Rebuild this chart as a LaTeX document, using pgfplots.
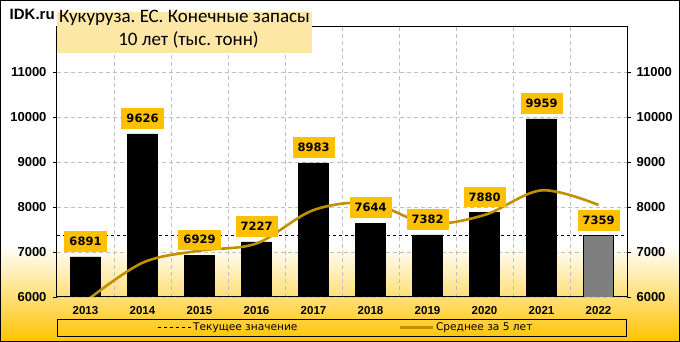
\documentclass[border=0pt]{standalone}
\usepackage{fontspec}
\setmainfont{Carlito}
\newfontfamily\dv{DejaVu Sans}
\newfontfamily\lib{Liberation Sans}
\usepackage{pgfplots}
\pgfplotsset{compat=1.18}
\definecolor{gold}{RGB}{191,144,0}
\definecolor{lab}{RGB}{255,192,0}
\definecolor{tbg}{RGB}{253,231,166}
\definecolor{grd}{RGB}{192,192,192}
\definecolor{bot}{RGB}{255,195,0}
\definecolor{barg}{RGB}{127,127,127}
\pgfplotsset{
  common/.style={
    at={(57pt,45pt)}, anchor=south west, scale only axis,
    width=570pt, height=270pt,
    xmin=-0.5, xmax=9.5, ymin=6000, ymax=12000,
    ytick={6000,7000,8000,9000,10000,11000},
    scaled y ticks=false,
    /pgf/number format/1000 sep={},
    /pgf/number format/assume math mode=true,
    yticklabel style={font=\lib\bfseries\fontsize{13}{15}\selectfont},
    tick align=outside, major tick length=4pt,
    axis line style={black, line width=1pt},
  }
}
\frenchspacing
\begin{document}
\begin{tikzpicture}[x=1pt,y=1pt]
\useasboundingbox (0,0) rectangle (680,342);
\fill[white] (0,0) rectangle (680,342);
\shade[top color=white, bottom color=bot] (0,0) rectangle (680,97);
\begin{axis}[common,
  xtick={0,...,9},
  xticklabels={2013,2014,2015,2016,2017,2018,2019,2020,2021,2022},
  xticklabel style={font=\lib\bfseries\fontsize{11.5}{13}\selectfont, yshift=-2pt},
  x tick style={draw=none},
  minor xtick={0.5,1.5,...,8.5},
  xminorgrids=true, ymajorgrids=true,
  minor x tick style={draw=none},
  grid style={grd, dash pattern=on 4pt off 3pt, line width=0.8pt},
  minor grid style={grd, dash pattern=on 4pt off 3pt, line width=0.8pt},
  y tick style={black, line width=0.8pt},
  yticklabel style={xshift=-3pt},
  legend columns=2,
  legend style={at={(0.1754,-0.1125)}, anchor=west, draw=none, fill=none,
    font=\dv\fontsize{10.6}{12}\selectfont, inner sep=0pt,
    /tikz/every even column/.append style={column sep=99pt}},
  legend image code/.code={\draw[#1] (0pt,0pt) -- (33pt,0pt);},
]
\addplot[ybar, bar width=30pt, bar shift=0pt, fill=black, draw=black, forget plot]
  coordinates {(0,6891) (1,9626) (2,6929) (3,7227) (4,8983) (5,7644) (6,7382) (7,7880) (8,9959)};
\addplot[ybar, bar width=30pt, bar shift=0pt, fill=barg, draw=black, line width=0.8pt, forget plot]
  coordinates {(9,7359)};
\addplot[black, line width=1pt, dash pattern=on 3pt off 3pt] coordinates {(-0.5,7359) (9.5,7359)};
\addlegendentry{Текущее значение}
\addplot[gold, line width=2.6pt, smooth, tension=0.55, mark=none]
  coordinates {(0,5900) (1,6760) (2,7030) (3,7190) (4,7931) (5,8082) (6,7633) (7,7823) (8,8370) (9,8045)};
\addlegendentry{Среднее за 5 лет}
\addplot[draw=none, mark=none, forget plot, nodes near coords, point meta=explicit symbolic,
  every node near coord/.style={anchor=south, yshift=5pt, fill=lab, text=black,
    font=\dv\bfseries\fontsize{11.5}{13}\selectfont, inner xsep=5pt, inner ysep=6pt,
    text height=8.4pt, text depth=0pt}]
  coordinates {(0,6891)[6891] (1,9626)[9626] (2,6929)[6929] (3,7227)[7227] (4,8983)[8983]
    (5,7644)[7644] (6,7382)[7382] (7,7880)[7880] (8,9959)[9959] (9,7359)[7359]};
\end{axis}
\begin{axis}[common, axis x line=none, axis y line*=right, yticklabel pos=right,
  y tick style={black, line width=0.8pt}, yticklabel style={xshift=2pt}]
\addplot[draw=none, mark=none] coordinates {(0,6000)};
\end{axis}
% legend frame
\draw[black, line width=1pt] (57.5,5.5) rectangle (626.5,22);
% title
\fill[tbg] (57,289) rectangle (312,330);
\node[anchor=base, inner sep=0pt, font=\fontsize{19}{21}\selectfont] at (184.5,319.7) {Кукуруза. ЕС. Конечные запасы};
\node[anchor=base, inner sep=0pt, font=\fontsize{19}{21}\selectfont] at (188.5,296.3) {10 лет (тыс. тонн)};
\node[anchor=base west, inner sep=0pt, font=\lib\bfseries\fontsize{15}{17}\selectfont] at (9.5,322.7) {IDK.ru};
\draw[black, line width=1pt] (0.5,0.5) rectangle (679.5,341.5);
\end{tikzpicture}
\end{document}
